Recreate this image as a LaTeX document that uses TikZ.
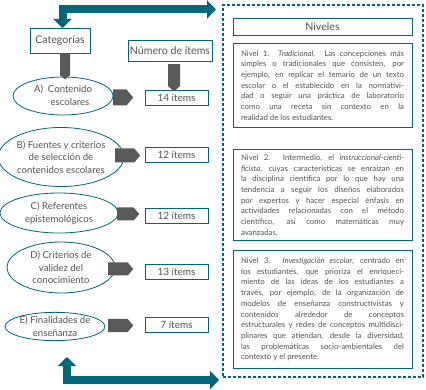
\documentclass[tikz,border=0pt]{standalone}
\usepackage{fontspec}
\setmainfont{Lato}
\usetikzlibrary{arrows.meta,positioning,shapes.geometric,shapes.symbols}
\definecolor{Petrol}{HTML}{00667A}
\definecolor{Slate}{HTML}{58595B}
\definecolor{Ink}{HTML}{575350}
\newcommand{\jline}[1]{\makebox[163pt][s]{#1}\\}

\begin{document}
\begin{tikzpicture}[x=1pt,y=-1pt,
    box/.style={draw=Petrol,line width=0.9pt,fill=white,text=Ink,inner sep=0pt},
    cat/.style={ellipse,draw=Petrol,line width=0.8pt,fill=white,text=Ink,inner sep=0pt,align=center,font=\fontsize{9.6}{12.5}\selectfont},
    item/.style={box,minimum width=63pt,minimum height=15pt,font=\fontsize{10}{11}\selectfont},
    head/.style={box,font=\fontsize{10.6}{12}\selectfont},
    nivel/.style={box,text width=163pt,inner xsep=8pt,align=justify,anchor=north,font=\fontsize{7.8}{10.7}\selectfont},
    pointer/.style={signal,fill=Slate,inner sep=0pt,signal pointer angle=100},
    link/.style={draw=Petrol,line width=8pt,{Triangle[width=18pt,length=9pt]}-{Triangle[width=18pt,length=9pt]}}]
    \useasboundingbox (0,0) rectangle (426,390);

    % Frame round the levels
    \node[draw=Petrol,dash pattern=on 3pt off 2pt,line width=2.2pt,minimum width=200pt,minimum height=372pt,inner sep=0pt] (frame) at (323,191) {};

    % Headings
    \node[head,minimum width=60pt,minimum height=25pt] (cat) at (60,40.5) {Categorías};
    \node[head,minimum width=84pt,minimum height=21pt] (num) at (170,50.5) {Número de ítems};
    \node[head,minimum width=179pt,minimum height=17pt] (niv) at (322.5,26.5) {Niveles};

    % Categories
    \node[cat,minimum width=100pt,minimum height=38pt] (catA) at (63,96) {A)\ \ Contenido\\\phantom{A)\ \ }escolares};
    \node[cat,minimum width=123pt,minimum height=59pt] (catB) at (61,157) {B) Fuentes y criterios\\de selección de\\contenidos escolares};
    \node[cat,minimum width=118pt,minimum height=40pt] (catC) at (59,213) {C) Referentes\\epistemológicos};
    \node[cat,minimum width=108pt,minimum height=51pt] (catD) at (61,267.5) {D) Criterios de\\validez del\\conocimiento};
    \node[cat,minimum width=96pt,minimum height=28pt] (catE) at (55,326.5) {E) Finalidades de\\enseñanza};

    % Number of items
    \node[item] (itA) at (176.5,98) {14 ítems};
    \node[item] (itB) at (176.5,155) {12 ítems};
    \node[item] (itC) at (176.5,216) {12 ítems};
    \node[item] (itD) at (176.5,272) {13 ítems};
    \node[item] (itE) at (176.5,324.5) {7 ítems};

    % Grey pointers
    \node[pointer,signal to=south,minimum width=10pt,minimum height=22pt,anchor=north] (dnCat) at (65,53) {};
    \node[pointer,signal to=south,minimum width=12pt,minimum height=22pt,anchor=north] (dnNum) at (174,64) {};
    \node[pointer,signal to=east,minimum width=20pt,minimum height=16pt,anchor=west] (ptA) at (113,97.5) {};
    \node[pointer,signal to=east,minimum width=25pt,minimum height=14pt,anchor=west] (ptB) at (115,155.5) {};
    \node[pointer,signal to=east,minimum width=22pt,minimum height=13pt,anchor=west] (ptC) at (117,214) {};
    \node[pointer,signal to=east,minimum width=25pt,minimum height=13pt,anchor=west] (ptD) at (108,269) {};
    \node[pointer,signal to=east,minimum width=25pt,minimum height=13pt,anchor=west] (ptE) at (108,325.5) {};

    % Levels
    \node[nivel,minimum height=84pt] (n1) at (322.5,43) {%
      \jline{Nivel 1. \textit{Tradicional}. Las concepciones más}
      \jline{simples o tradicionales que consisten, por}
      \jline{ejemplo, en replicar el temario de un texto}
      \jline{escolar o el establecido en la normativi-}
      \jline{dad o seguir una práctica de laboratorio}
      \jline{como una receta sin contexto en la}
      realidad de los estudiantes.};
    \node[nivel,minimum height=91pt] (n2) at (322.5,149) {%
      \jline{Nivel 2. Intermedio, el \textit{instruccional-cienti-}}
      \jline{\textit{ficista}, cuyas características se enraízan en}
      \jline{la disciplina científica por lo que hay una}
      \jline{tendencia a seguir los diseños elaborados}
      \jline{por expertos y hacer especial énfasis en}
      \jline{actividades relacionadas con el método}
      \jline{científico, así como matemáticas muy}
      avanzadas.};
    \node[nivel,minimum height=118pt] (n3) at (322.5,250) {%
      \jline{Nivel 3. \textit{Investigación escolar}, centrado en}
      \jline{los estudiantes, que prioriza el enriqueci-}
      \jline{miento de las ideas de los estudiantes a}
      \jline{través, por ejemplo, de la organización de}
      \jline{modelos de enseñanza constructivistas y}
      \jline{contenidos alrededor de conceptos}
      \jline{estructurales y redes de conceptos multidisci-}
      \jline{plinares que atiendan, desde la diversidad,}
      \jline{las problemáticas socio-ambientales del}
      contexto y el presente.};

    % Links to the frame
    \coordinate (topstart) at (62.5,28);
    \coordinate (topend) at (216,9.5);
    \coordinate (botstart) at (67,357);
    \coordinate (botend) at (219,380);
    \draw[link] (topstart) |- (topend);
    \draw[link] (botstart) |- (botend);
\end{tikzpicture}
\end{document}
